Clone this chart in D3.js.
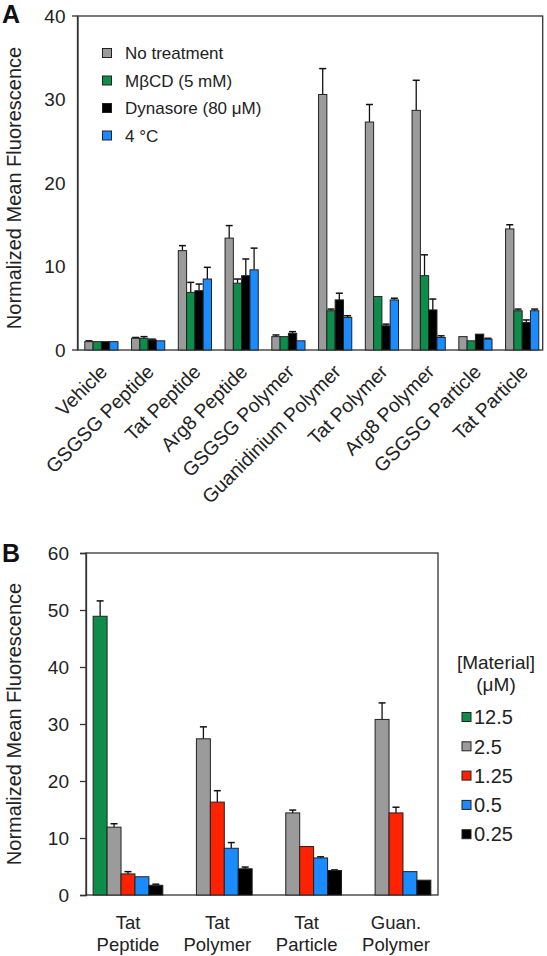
<!DOCTYPE html>
<html><head><meta charset="utf-8">
<script src="https://cdn.jsdelivr.net/npm/d3@7"></script>
<style>
body{margin:0;background:#fff;}
svg{display:block;font-family:"Liberation Sans",Arial,sans-serif;}
</style></head><body>
<svg id="chart" width="547" height="956"></svg>
<script>
// ---------- Panel A data ----------
const catsA = ["Vehicle","GSGSG Peptide","Tat Peptide","Arg8 Peptide","GSGSG Polymer","Guanidinium Polymer","Tat Polymer","Arg8 Polymer","GSGSG Particle","Tat Particle"];
const seriesA = ["No treatment","MβCD (5 mM)","Dynasore (80 μM)","4 °C"];
const colorsA = ["#9b9b9b","#0e8c4a","#000000","#1a8cff"];
const noTreat   = [1.0, 1.4, 11.9, 13.4, 1.6, 30.6, 27.3, 28.7, 1.6, 14.5];
const noTreatE  = [0.1, 0.1, 0.6, 1.5, 0.2, 3.1, 2.1, 3.6, 0.0, 0.5];
const mbcd      = [1.0, 1.4, 6.9, 8.0, 1.6, 4.7, 6.4, 8.9, 1.1, 4.7];
const mbcdE     = [0.0, 0.2, 1.2, 0.5, 0.0, 0.2, 0.0, 2.5, 0.0, 0.2];
const dyna      = [1.0, 1.2, 7.1, 8.9, 2.0, 6.0, 2.9, 4.8, 1.9, 3.3];
const dynaE     = [0.0, 0.1, 0.8, 2.0, 0.2, 0.8, 0.2, 1.3, 0.0, 0.3];
const cold      = [1.0, 1.1, 8.5, 9.6, 1.1, 3.9, 6.0, 1.5, 1.3, 4.7];
const coldE     = [0.0, 0.0, 1.4, 2.6, 0.0, 0.2, 0.2, 0.2, 0.1, 0.2];
const ticksA = [0,10,20,30,40];

// ---------- Panel B data ----------
const catsB = [["Tat","Peptide"],["Tat","Polymer"],["Tat","Particle"],["Guan.","Polymer"]];
const seriesB = ["12.5","2.5","1.25","0.5","0.25"];
const colorsB = ["#0e8c4a","#9b9b9b","#ff2200","#1a8cff","#000000"];
const c125  = [48.9, null, null, null];
const c125E = [2.7, null, null, null];
const c25   = [11.9, 27.4, 14.4, 30.8];
const c25E  = [0.6, 2.1, 0.5, 2.9];
const c1p25 = [3.7, 16.3, 8.5, 14.4];
const c1p25E= [0.4, 2.0, 0.0, 1.0];
const c05   = [3.2, 8.2, 6.5, 4.1];
const c05E  = [0.0, 1.0, 0.2, 0.0];
const c025  = [1.7, 4.6, 4.3, 2.6];
const c025E = [0.2, 0.3, 0.1, 0.0];
const ticksB = [0,10,20,30,40,50,60];

const svg = d3.select("#chart");
const txt = "#222";
const frameCol = "#333";

function drawPanel(cfg){
  const g = svg.append("g");
  const {x0,x1,yTop,yBot,domainMax,ticks,cats,vals,errs,colors,padIn,padOut,align,tickSize,subPad} = cfg;
  const y = d3.scaleLinear().domain([0,domainMax]).range([yBot,yTop]);
  const x = d3.scaleBand().domain(d3.range(cats.length)).range([x0,x1]).paddingInner(padIn).paddingOuter(padOut).align(align);
  const xs = d3.scaleBand().domain(d3.range(vals.length)).range([0,x.bandwidth()]).padding(subPad);
  g.append("rect").attr("x",x0).attr("y",yTop).attr("width",x1-x0).attr("height",yBot-yTop)
    .attr("fill","none").attr("stroke",frameCol).attr("stroke-width",1.3);
  vals.forEach((arr,si)=>{
    arr.forEach((v,ci)=>{
      if(v==null) return;
      const bx = x(ci)+xs(si);
      const bw = xs.bandwidth();
      const e = errs[si][ci];
      if(e>0){
        const cx = bx+bw/2;
        g.append("line").attr("x1",cx).attr("x2",cx).attr("y1",y(v)).attr("y2",y(v+e))
          .attr("stroke","#111").attr("stroke-width",1.3);
        g.append("line").attr("x1",cx-3.5).attr("x2",cx+3.5).attr("y1",y(v+e)).attr("y2",y(v+e))
          .attr("stroke","#111").attr("stroke-width",1.5);
      }
      g.append("rect").attr("x",bx).attr("y",y(v)).attr("width",bw).attr("height",y(0)-y(v))
        .attr("fill",colors[si]).attr("stroke","#222").attr("stroke-width",1);
    });
  });
  const ax = g.append("g").attr("transform",`translate(${x0},0)`)
    .call(d3.axisLeft(y).tickValues(ticks).tickSize(tickSize).tickPadding(cfg.tickPad));
  ax.select(".domain").attr("stroke",frameCol).attr("stroke-width",1.3);
  ax.selectAll(".tick line").attr("stroke",frameCol).attr("stroke-width",1.3);
  ax.selectAll(".tick text").attr("font-size",cfg.tickFont).attr("fill",txt).attr("font-family","Liberation Sans, Arial, sans-serif");
  return {g,x,y};
}

// ---------- Panel A ----------
const A = drawPanel({x0:77.5,x1:542.7,yTop:16,yBot:350,domainMax:40,ticks:ticksA,cats:catsA,
  vals:[noTreat,mbcd,dyna,cold],errs:[noTreatE,mbcdE,dynaE,coldE],colors:colorsA,
  padIn:0.29,padOut:0.12,align:0.65,tickSize:0,tickPad:12,tickFont:19,subPad:0});
[0,40].forEach(v=>{
  A.g.append("line").attr("x1",72).attr("x2",77.5).attr("y1",A.y(v)).attr("y2",A.y(v))
    .attr("stroke",frameCol).attr("stroke-width",1.3);
});
catsA.forEach((c,i)=>{
  const cx = A.x(i)+A.x.bandwidth()/2;
  A.g.append("text").attr("transform",`translate(${cx+7},${373}) rotate(-45)`)
    .attr("text-anchor","end").attr("font-size",19.5).attr("fill",txt).text(c);
});
svg.append("text").attr("transform","translate(21,188) rotate(-90)").attr("text-anchor","middle")
  .attr("font-size",20).attr("fill",txt).text("Normalized Mean Fluorescence");
svg.append("text").attr("x",2).attr("y",23).attr("font-size",25).attr("font-weight","bold").attr("fill","#111").text("A");
seriesA.forEach((s,i)=>{
  const cy = 53 + i*27.5;
  svg.append("rect").attr("x",102.5).attr("y",cy-4.5).attr("width",9).attr("height",9)
    .attr("fill",colorsA[i]).attr("stroke","#222").attr("stroke-width",1);
  svg.append("text").attr("x",125).attr("y",cy).attr("dy","0.36em").attr("font-size",17).attr("fill",txt).text(s);
});

// ---------- Panel B ----------
const B = drawPanel({x0:86,x1:438,yTop:553,yBot:895,domainMax:60,ticks:ticksB,cats:catsB,
  vals:[c125,c25,c1p25,c05,c025],errs:[c125E,c25E,c1p25E,c05E,c025E],colors:colorsB,
  padIn:0.22,padOut:0.08,align:0.5,tickSize:6,tickPad:11,tickFont:19,subPad:0});
catsB.forEach((c,i)=>{
  const cx = B.x(i)+B.x.bandwidth()/2;
  c.forEach((line,k)=>{
    B.g.append("text").attr("x",cx).attr("y",929+k*22).attr("text-anchor","middle")
      .attr("font-size",18.5).attr("fill",txt).text(line);
  });
});
svg.append("text").attr("transform","translate(21,724) rotate(-90)").attr("text-anchor","middle")
  .attr("font-size",20).attr("fill",txt).text("Normalized Mean Fluorescence");
svg.append("text").attr("x",2).attr("y",562).attr("font-size",25).attr("font-weight","bold").attr("fill","#111").text("B");
svg.append("text").attr("x",496).attr("y",669).attr("text-anchor","middle").attr("font-size",19).attr("fill",txt).text("[Material]");
svg.append("text").attr("x",496).attr("y",691).attr("text-anchor","middle").attr("font-size",19).attr("fill",txt).text("(μM)");
seriesB.forEach((s,i)=>{
  const cy = 717 + i*29.3;
  svg.append("rect").attr("x",462).attr("y",cy-4.5).attr("width",9).attr("height",9)
    .attr("fill",colorsB[i]).attr("stroke","#222").attr("stroke-width",1);
  svg.append("text").attr("x",474).attr("y",cy).attr("dy","0.36em").attr("font-size",20).attr("fill",txt).text(s);
});
</script></body></html>
